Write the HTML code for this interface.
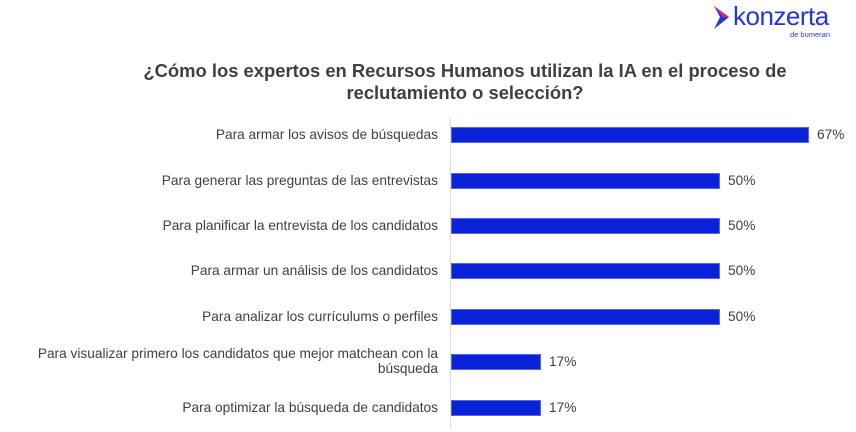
<!DOCTYPE html>
<html><head><style>
body{margin:0;width:856px;height:432px;background:#fff;font-family:"Liberation Sans",sans-serif;position:relative;overflow:hidden}
.t{position:absolute;left:110px;width:710px;text-align:center;font-weight:bold;font-size:18.4px;color:#404040;line-height:22px;top:60px}
.l{position:absolute;right:418px;text-align:right;font-size:13.7px;color:#404040;line-height:15px;white-space:nowrap}
.b{position:absolute;left:451px;height:16px;background:#0a22d8;border:1px solid #5566ee;box-sizing:border-box}
.v{position:absolute;font-size:13.7px;color:#404040}
</style></head><body>
<div style="position:absolute;left:712px;top:5px;width:20px;height:26px">
<svg width="20" height="26"><path d="M2 1 L17 12 L2 24 L8 12Z" fill="#2436d8"/><path d="M2 1 L17 12 L11 12Z" fill="#e8246a"/></svg></div>
<div style="position:absolute;left:733px;top:1px;font-size:26px;color:#2436d8;letter-spacing:-0.5px">konzerta</div>
<div style="position:absolute;left:790px;top:30px;font-size:7.5px;color:#2436d8">de bumeran</div>
<div class="t">¿Cómo los expertos en Recursos Humanos utilizan la IA en el proceso de<br>reclutamiento o selección?</div>
<div style="position:absolute;left:450px;top:118px;width:1px;height:310px;background:#d9d9d9"></div>
<div class="l" style="top:127px">Para armar los avisos de búsquedas</div>
<div class="l" style="top:173px">Para generar las preguntas de las entrevistas</div>
<div class="l" style="top:218px">Para planificar la entrevista de los candidatos</div>
<div class="l" style="top:263px">Para armar un análisis de los candidatos</div>
<div class="l" style="top:309px">Para analizar los currículums o perfiles</div>
<div class="l" style="top:346px">Para visualizar primero los candidatos que mejor matchean con la<br>búsqueda</div>
<div class="l" style="top:400px">Para optimizar la búsqueda de candidatos</div>
<div class="b" style="top:127px;width:358px"></div><div class="v" style="left:817px;top:127px">67%</div>
<div class="b" style="top:173px;width:269px"></div><div class="v" style="left:728px;top:173px">50%</div>
<div class="b" style="top:218px;width:269px"></div><div class="v" style="left:728px;top:218px">50%</div>
<div class="b" style="top:263px;width:269px"></div><div class="v" style="left:728px;top:263px">50%</div>
<div class="b" style="top:309px;width:269px"></div><div class="v" style="left:728px;top:309px">50%</div>
<div class="b" style="top:354px;width:90px"></div><div class="v" style="left:549px;top:354px">17%</div>
<div class="b" style="top:400px;width:90px"></div><div class="v" style="left:549px;top:400px">17%</div>
</body></html>
